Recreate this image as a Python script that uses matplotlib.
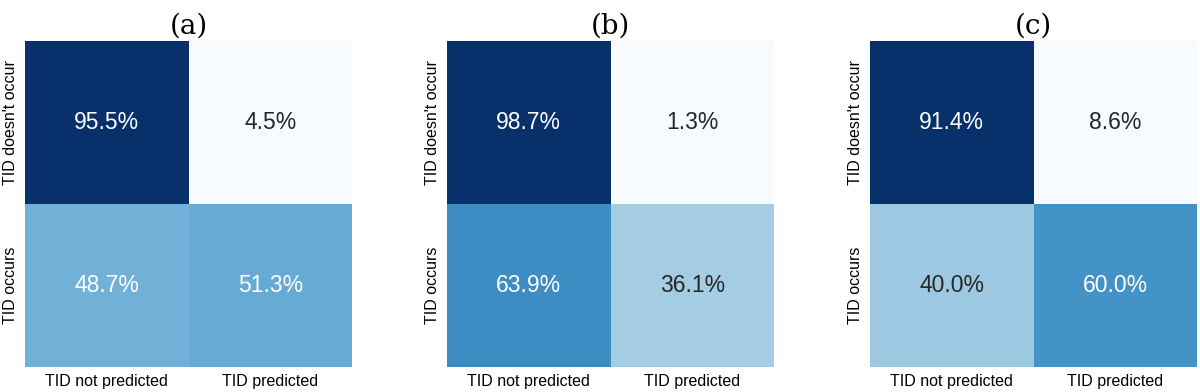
import matplotlib
matplotlib.use("Agg")
import matplotlib.pyplot as plt
import seaborn as sns
import numpy as np

titles = ["(a)", "(b)", "(c)"]
x_labels = ["TID not predicted", "TID predicted"]
y_labels = ["TID doesn't occur", "TID occurs"]
panel_a = [[95.5, 4.5], [48.7, 51.3]]
panel_b = [[98.7, 1.3], [63.9, 36.1]]
panel_c = [[91.4, 8.6], [40.0, 60.0]]
panels = [panel_a, panel_b, panel_c]

plt.rcParams['font.family'] = ['Liberation Sans', 'DejaVu Sans']

W, H = 1200, 392
fig = plt.figure(figsize=(W / 100, H / 100), dpi=100)
lefts = [25, 447, 870]
for left, title, vals in zip(lefts, titles, panels):
    ax = fig.add_axes([left / W, 1 - 367 / H, 327 / W, 326 / H])
    arr = np.array(vals)
    annot = np.array([[f"{v:.1f}%" for v in row] for row in vals])
    sns.heatmap(arr, ax=ax, cmap="Blues", annot=annot, fmt="", cbar=False,
                annot_kws={"fontsize": 16.5}, xticklabels=x_labels, yticklabels=y_labels)
    ax.tick_params(length=0, labelsize=11.5, pad=5)
    plt.setp(ax.get_yticklabels(), rotation=90, va="center")
    ax.set_title(title, family="DejaVu Serif", fontsize=20, pad=5)

fig.savefig("out.png", dpi=100)
